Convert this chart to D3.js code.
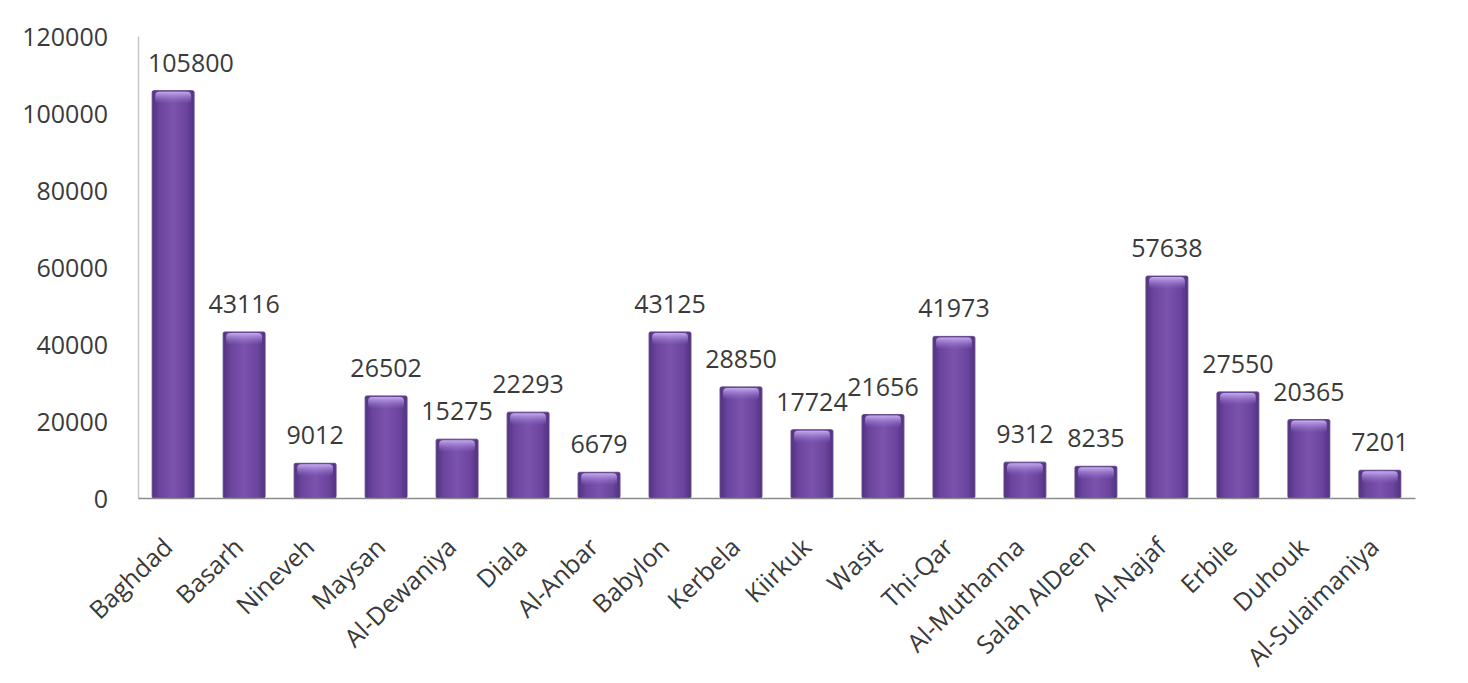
<!DOCTYPE html>
<html>
<head>
<meta charset="utf-8">
<script src="https://cdn.jsdelivr.net/npm/d3@7"></script>
<style>
    body { margin: 0; background: #ffffff; }
    #chart { width: 1468px; height: 683px; }
    .axis text { font-family: "Open Sans", sans-serif; font-size: 25px; fill: #3a3a3a; }
</style>
</head>
<body>
<div id="chart"></div>
<script>

let provinces = ["Baghdad", "Basarh", "Nineveh", "Maysan", "Al-Dewaniya", "Diala", "Al-Anbar",
                 "Babylon", "Kerbela", "Kiirkuk", "Wasit", "Thi-Qar", "Al-Muthanna", "Salah AlDeen",
                 "Al-Najaf", "Erbile", "Duhouk", "Al-Sulaimaniya"];
let counts = [105800, 43116, 9012, 26502, 15275, 22293, 6679,
              43125, 28850, 17724, 21656, 41973, 9312, 8235,
              57638, 27550, 20365, 7201];
let y_ticks = [0, 20000, 40000, 60000, 80000, 100000, 120000];

let chart_width = 1468;
let chart_height = 683;

let margin_top = 36;
let margin_right = 53;
let margin_bottom = 185;
let margin_left = 138;

let width = chart_width - margin_left - margin_right;
let height = chart_height - margin_top - margin_bottom;

let svg_root = d3.select("#chart")
                .append("svg")
                .attr("width", chart_width)
                .attr("height", chart_height);

let defs = svg_root.append("defs");

// horizontal shading of the bar body
let body_grad = defs.append("linearGradient")
                    .attr("id", "bar_body")
                    .attr("x1", "0%").attr("x2", "100%")
                    .attr("y1", "0%").attr("y2", "0%");
body_grad.append("stop").attr("offset", "0%").attr("stop-color", "#523280");
body_grad.append("stop").attr("offset", "18%").attr("stop-color", "#6b449e");
body_grad.append("stop").attr("offset", "50%").attr("stop-color", "#7b53ad");
body_grad.append("stop").attr("offset", "82%").attr("stop-color", "#6b449e");
body_grad.append("stop").attr("offset", "100%").attr("stop-color", "#523280");

// light bevel on top of each bar
let cap_grad = defs.append("linearGradient")
                   .attr("id", "bar_cap")
                   .attr("x1", "0%").attr("x2", "0%")
                   .attr("y1", "0%").attr("y2", "100%");
cap_grad.append("stop").attr("offset", "0%").attr("stop-color", "#c9b0f2").attr("stop-opacity", 0.95);
cap_grad.append("stop").attr("offset", "100%").attr("stop-color", "#9a76d0").attr("stop-opacity", 0);

let svg = svg_root.append("g")
                  .attr("transform", "translate(" + margin_left + "," + margin_top + ")");

let xScale = d3.scaleBand()
               .domain(provinces)
               .range([0, width])
               .paddingInner(0.41)
               .paddingOuter(0.2);

let yScale = d3.scaleLinear()
               .domain([0, 120000])
               .range([height, 0]);

// y axis
let y_axis = svg.append("g")
                .attr("class", "y axis")
                .call(d3.axisLeft(yScale).tickValues(y_ticks).tickFormat(d3.format("d"))
                        .tickSize(0).tickPadding(30));
y_axis.select(".domain").attr("stroke", "#c8c8c8").attr("stroke-width", 1.5);
y_axis.selectAll("text").attr("dy", "0.36em");

// bars
let bars = svg.selectAll(".bar")
              .data(counts)
              .enter()
              .append("g")
              .attr("class", "bar");

bars.append("rect")
    .attr("x", (d, i) => xScale(provinces[i]))
    .attr("y", d => yScale(d))
    .attr("width", xScale.bandwidth())
    .attr("height", d => height - yScale(d))
    .attr("rx", 1.5)
    .style("fill", "url(#bar_body)")
    .attr("stroke", "#5f4388")
    .attr("stroke-width", 1);

bars.append("rect")
    .attr("x", (d, i) => xScale(provinces[i]) + 3)
    .attr("y", d => yScale(d) + 1)
    .attr("width", xScale.bandwidth() - 6)
    .attr("height", d => Math.min(12, height - yScale(d) - 2))
    .attr("rx", 4)
    .style("fill", "url(#bar_cap)");

// x axis
let x_axis = svg.append("g")
                .attr("class", "x axis")
                .attr("transform", "translate(0," + height + ")")
                .call(d3.axisBottom(xScale).tickSize(0).tickPadding(0));
x_axis.select(".domain").attr("stroke", "#8c8c8c").attr("stroke-width", 1.5);
x_axis.selectAll("text")
      .attr("text-anchor", "end")
      .attr("dy", 0)
      .attr("y", 0)
      .attr("transform", "translate(1,51) rotate(-44)");

// value labels, kept clear of the y axis like the original
svg.selectAll(".value_label")
   .data(counts)
   .enter()
   .append("text")
   .attr("class", "value_label")
   .attr("x", (d, i) => xScale(provinces[i]) + xScale.bandwidth() / 2)
   .attr("y", d => yScale(d) - 19)
   .attr("text-anchor", "middle")
   .style("font-family", "'Open Sans', sans-serif")
   .style("font-size", "25px")
   .style("fill", "#3a3a3a")
   .text(d => d)
   .each(function() {
       let w = this.getComputedTextLength();
       let cx = +d3.select(this).attr("x");
       if (cx - w / 2 < 10) {
           d3.select(this).attr("x", 10 + w / 2);
       }
   });

</script>
</body>
</html>
